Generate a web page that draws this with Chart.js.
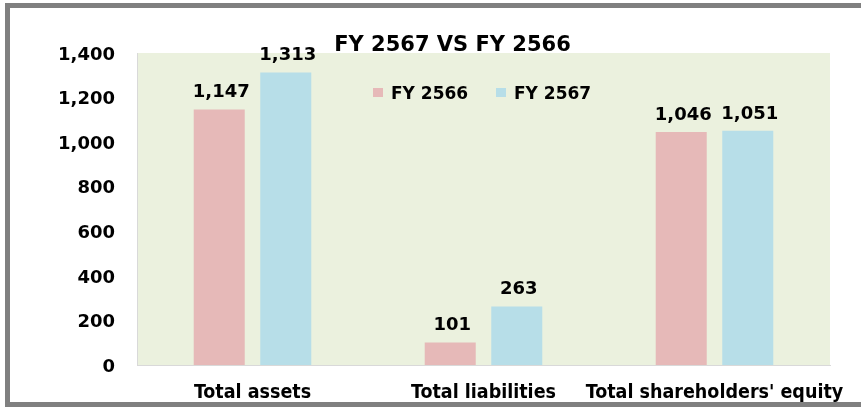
<!DOCTYPE html>
<html>
<head>
<meta charset="utf-8">
<script src="https://cdn.jsdelivr.net/npm/chart.js@4"></script>
<style>
html,body{margin:0;padding:0;background:#fff;overflow:hidden;}
#wrap{width:861px;height:407px;position:relative;}
canvas{display:block;}
</style>
</head>
<body>
<div id="wrap"><canvas id="c" width="861" height="407"></canvas></div>
<script>
const categories = ["Total assets", "Total liabilities", "Total shareholders' equity"];
const seriesNames = ["FY 2566", "FY 2567"];
const fy2566 = [1147, 101, 1046];
const fy2567 = [1313, 263, 1051];
const yTicks = [0, 200, 400, 600, 800, 1000, 1200, 1400];
const chartTitle = "FY 2567 VS FY 2566";

const colors = ["#E6B9B8", "#B7DEE8"];
const tickFont = "bold 18px 'DejaVu Sans'";

const frameAndBg = {
  id: 'frameAndBg',
  beforeDraw(chart) {
    const ctx = chart.ctx, a = chart.chartArea;
    ctx.save();
    ctx.fillStyle = '#fff';
    ctx.fillRect(0, 0, chart.width, chart.height);
    ctx.fillStyle = '#EBF1DE';
    ctx.fillRect(a.left, a.top, a.right - a.left, a.bottom - a.top);
    ctx.restore();
  },
  afterDraw(chart) {
    const ctx = chart.ctx;
    ctx.save();
    ctx.fillStyle = '#808080';
    ctx.fillRect(5, 3, chart.width - 5, 5);
    ctx.fillRect(5, 3, 5, chart.height - 3);
    ctx.fillRect(5, 402, chart.width - 5, 5);
    // title
    ctx.fillStyle = '#000';
    ctx.font = "bold 21px 'DejaVu Sans'";
    ctx.textAlign = 'center';
    ctx.textBaseline = 'alphabetic';
    ctx.fillText(chartTitle, 452.5, 51);
    // legend
    ctx.font = "bold 17px 'DejaVu Sans'";
    ctx.textAlign = 'left';
    const lx = [373, 496];
    chart.data.datasets.forEach((ds, i) => {
      ctx.fillStyle = ds.backgroundColor;
      ctx.fillRect(lx[i], 88, 10, 9);
      ctx.fillStyle = '#000';
      ctx.fillText(ds.label, lx[i] + 18, 99);
    });
    ctx.restore();
  },
  afterDatasetsDraw(chart) {
    const ctx = chart.ctx;
    ctx.save();
    ctx.font = tickFont;
    ctx.fillStyle = '#000';
    ctx.textAlign = 'center';
    ctx.textBaseline = 'alphabetic';
    chart.data.datasets.forEach((ds, di) => {
      const meta = chart.getDatasetMeta(di);
      meta.data.forEach((bar, i) => {
        ctx.fillText(ds.data[i].toLocaleString('en-US'), bar.x + 2, bar.y - 12);
      });
    });
    ctx.restore();
  }
};

new Chart(document.getElementById('c'), {
  type: 'bar',
  data: {
    labels: categories,
    datasets: [
      { label: seriesNames[0], data: fy2566, backgroundColor: colors[0], borderWidth: 0 },
      { label: seriesNames[1], data: fy2567, backgroundColor: colors[1], borderWidth: 0 }
    ]
  },
  options: {
    responsive: false,
    animation: false,
    devicePixelRatio: 1,
    categoryPercentage: 0.576,
    barPercentage: 0.767,
    layout: { padding: { left: 0, right: 31, top: 53, bottom: 0 } },
    plugins: {
      legend: { display: false },
      title: { display: false },
      tooltip: { enabled: false }
    },
    scales: {
      x: {
        grid: { display: false, drawTicks: false },
        border: { display: true, color: '#D9D9D9', width: 1 },
        ticks: {
          color: '#000',
          padding: 16,
          maxRotation: 0,
          autoSkip: false,
          font: { family: "'DejaVu Sans Condensed'", weight: 'bold', size: 19.5 }
        },
        afterFit(scale) { scale.height = 42; scale.paddingLeft = 0; scale.paddingRight = 0; }
      },
      y: {
        min: 0, max: 1400,
        afterBuildTicks(scale) { scale.ticks = yTicks.map(v => ({ value: v })); },
        grid: { display: false, drawTicks: false },
        border: { display: true, color: '#D9D9D9', width: 1 },
        ticks: {
          color: '#000',
          padding: 22,
          labelOffset: 2,
          font: { family: "'DejaVu Sans'", weight: 'bold', size: 18 },
          callback: v => v.toLocaleString('en-US')
        },
        afterFit(scale) { scale.width = 137; }
      }
    }
  },
  plugins: [frameAndBg]
});
</script>
</body>
</html>
